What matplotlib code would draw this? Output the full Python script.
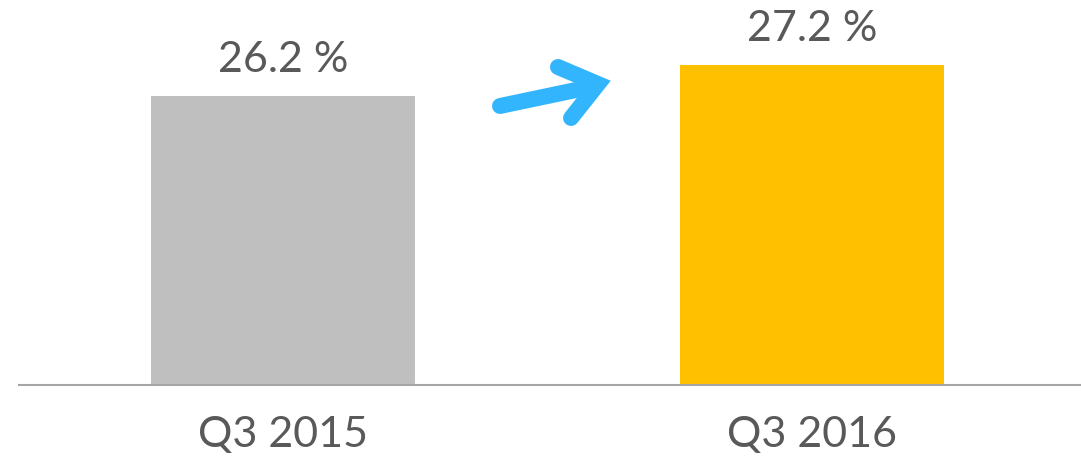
import matplotlib
matplotlib.use("Agg")
import matplotlib.pyplot as plt
from matplotlib.lines import Line2D

categories = ["Q3 2015", "Q3 2016"]
values = [26.2, 27.2]
labels = ["26.2 %", "27.2 %"]
colors = ["#BFBFBF", "#FFC000"]

plt.rcParams['font.family'] = ['Lato', 'DejaVu Sans']
text_color = "#595959"

fig = plt.figure(figsize=(10.81, 4.59), dpi=100)
ax = fig.add_axes([19/1081, 74/459, 1062/1081, 385/459])

x = list(range(len(categories)))
ax.bar(x, values, width=0.499, color=colors, bottom=0)
ax.set_xlim(-0.499, 1.508)
ax.set_ylim(16.88, 16.88 + 385/31)

for xi, v, lab in zip(x, values, labels):
    ax.annotate(lab, (xi, v), xytext=(0, 12), textcoords="offset points",
                ha="center", va="bottom", fontsize=31, color=text_color)

ax.set_xticks(x)
ax.set_xticklabels(categories, fontsize=31, color=text_color)
ax.tick_params(axis="x", length=0, pad=22)
ax.set_yticks([])
for s in ["top", "right", "left"]:
    ax.spines[s].set_visible(False)
ax.spines["bottom"].set_color("#A6A6A6")
ax.spines["bottom"].set_linewidth(1.5)

arrow_color = "#33B5FE"
shaft = Line2D([0.4529, 0.5424], [0.7247, 0.7766], transform=ax.transAxes,
               color=arrow_color, lw=11.5, solid_capstyle="round", clip_on=False)
head = Line2D([0.5075, 0.5452, 0.5198], [0.8260, 0.7818, 0.6935], transform=ax.transAxes,
              color=arrow_color, lw=11.5, solid_capstyle="round", solid_joinstyle="miter", clip_on=False)
ax.add_line(shaft)
ax.add_line(head)

fig.savefig("out.png", dpi=100)
